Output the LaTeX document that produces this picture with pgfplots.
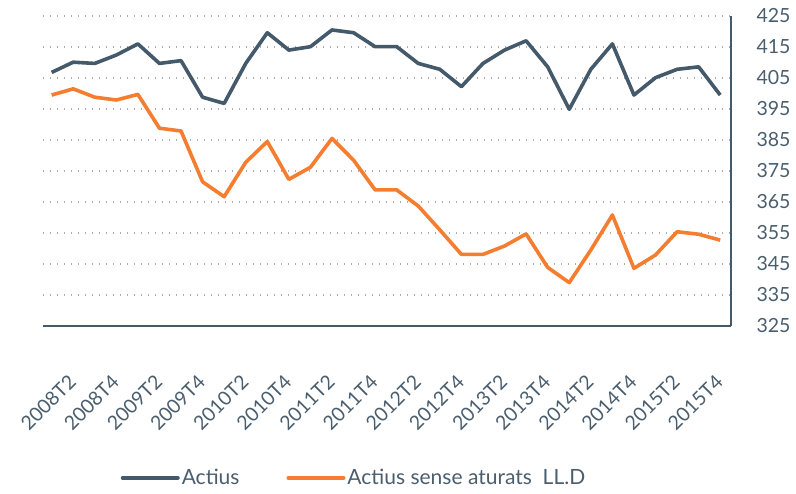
\documentclass[border=0pt]{standalone}
\usepackage{pgfplots}
\pgfplotsset{compat=1.18}
\usepackage{fontspec}
\setmainfont{Lato}
\definecolor{slate}{HTML}{44596A}
\definecolor{orng}{HTML}{F47D30}
\definecolor{txt}{HTML}{4A5E6E}
\definecolor{gridc}{HTML}{A8ADB0}
\begin{document}
\begin{tikzpicture}
\path[use as bounding box] (0,0) rectangle (796pt,494pt);
\begin{axis}[
  at={(43pt,168pt)}, anchor=south west,
  scale only axis, width=688pt, height=310pt,
  xmin=-0.4, xmax=31.5, ymin=325, ymax=425,
  axis x line*=bottom, axis y line*=right,
  axis line style={slate, line width=2.5pt, -},
  ytick={325,335,...,425},
  xtick={1,3,...,31},
  xticklabels={2008T2,2008T4,2009T2,2009T4,2010T2,2010T4,2011T2,2011T4,2012T2,2012T4,2013T2,2013T4,2014T2,2014T4,2015T2,2015T4},
  major tick length=0pt,
  tick style={draw=none},
  ymajorgrids,
  grid style={gridc, line width=1.3pt, dash pattern=on 1.3pt off 5.7pt},
  ticklabel style={text=txt, font=\fontsize{19.5}{22}\selectfont},
  /pgf/number format/assume math mode=true,
  yticklabel style={anchor=west, xshift=22pt},
  xticklabel style={rotate=45, anchor=east, inner sep=0pt, xshift=-1pt},
  xticklabel shift=52pt,
  legend style={at={(0.452,-0.49)}, anchor=center, draw=none, fill=none,
    legend columns=2, font=\fontsize{21}{24}\selectfont, text=txt,
    /tikz/every even column/.append style={column sep=45pt}},
  legend image code/.code={\draw[#1, line width=4pt, line cap=round] (0pt,0pt) -- (55pt,0pt);},
]
\addplot[slate, line width=3.6pt, line join=round] coordinates {
(0,406.8) (1,410.1) (2,409.7) (3,412.4) (4,416.0) (5,409.7) (6,410.6) (7,398.8)
(8,396.8) (9,409.7) (10,419.6) (11,414.0) (12,415.1) (13,420.5) (14,419.6) (15,415.1)
(16,415.1) (17,409.7) (18,407.8) (19,402.2) (20,409.7) (21,414.0) (22,417.0) (23,408.6)
(24,394.9) (25,407.8) (26,416.0) (27,399.5) (28,405.1) (29,407.8) (30,408.6) (31,399.5)
};
\addlegendentry{Actius}
\addplot[orng, line width=3.6pt, line join=round] coordinates {
(0,399.5) (1,401.5) (2,398.8) (3,397.9) (4,399.7) (5,388.8) (6,387.9) (7,371.5)
(8,366.7) (9,377.8) (10,384.5) (11,372.3) (12,376.2) (13,385.5) (14,378.5) (15,368.9)
(16,368.9) (17,363.7) (18,356.0) (19,348.1) (20,348.1) (21,350.8) (22,354.7) (23,343.9)
(24,339.0) (25,349.5) (26,360.8) (27,343.6) (28,347.9) (29,355.4) (30,354.6) (31,352.7)
};
\addlegendentry{Actius sense aturats\ \ LL.D}
\end{axis}
\end{tikzpicture}
\end{document}
